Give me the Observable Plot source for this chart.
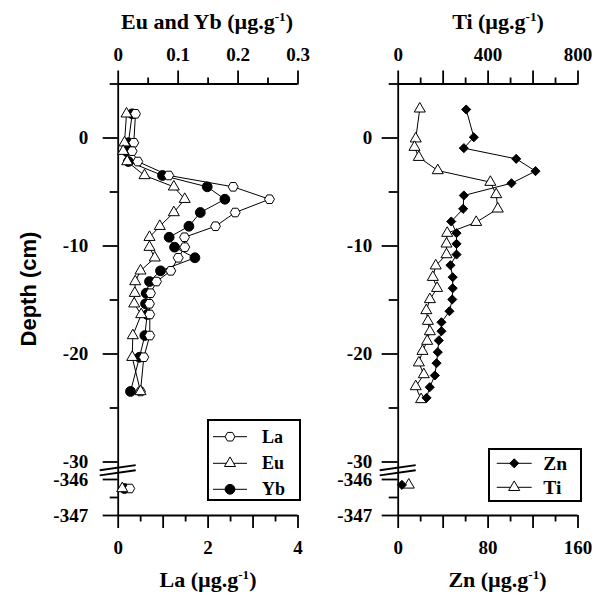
<!DOCTYPE html>
<html><head><meta charset="utf-8">
<script src="https://cdn.jsdelivr.net/npm/d3@7"></script>
<script src="https://cdn.jsdelivr.net/npm/@observablehq/plot@0.6"></script>
<style>
body{margin:0;background:#fff}
#chart{position:relative;width:601px;height:597px;font-family:"Liberation Serif",serif;font-weight:bold;color:#000;overflow:hidden}
.title{position:absolute;font-size:22px;white-space:nowrap;transform:translateX(-50%);line-height:26px}
.title sup{font-size:0.6em;line-height:0;vertical-align:0.62em}
.ylab{position:absolute;font-family:"Liberation Sans",Arial,sans-serif;font-size:22px;font-weight:bold;white-space:nowrap;line-height:26px;transform:translate(-50%,-50%) rotate(-90deg)}
.panel{position:absolute;top:0}
.legend{position:absolute;overflow:visible}
</style></head>
<body>
<div id="chart"></div>
<script>
// ---------- data ----------
// Left panel: La (bottom axis), Eu and Yb (top axis)
const depthL = [2.24, -0.44, -1.22, -2.18, -3.47, -4.52, -5.67, -6.9, -8.17, -9.19, -10.11, -11.09, -12.3, -13.29, -14.37, -15.35, -16.34, -18.29, -20.3, -23.47];
const laVals = [0.385, 0.347, 0.311, 0.436, 1.126, 2.558, 3.366, 2.603, 2.165, 1.475, 1.482, 1.335, 1.17, 0.852, 0.719, 0.696, 0.703, 0.703, 0.57, 0.496];
const euVals = [0.0139, 0.0105, 0.0083, 0.015, 0.0439, 0.0928, 0.111, 0.0928, 0.0694, 0.0522, 0.0522, 0.061, 0.0372, 0.0284, 0.0277, 0.0267, 0.0384, 0.0244, 0.0234, 0.0372];
const ybVals = [0.0234, 0.017, 0.014, 0.017, 0.0739, 0.1485, 0.178, 0.137, 0.118, 0.085, 0.094, 0.128, 0.0706, 0.0522, 0.0467, 0.0456, 0.0484, 0.0444, 0.0355, 0.0205];
const deepDepthL = [-346.25];
const deepLa = [0.258];
const deepEu = [0.0067];
const deepYb = [0.0105];

// Right panel: Zn (bottom axis), Ti (top axis)
const depthZn = [2.64, 0.07, -0.94, -1.93, -3.07, -4.19, -5.32, -6.56, -7.73, -8.81, -9.8, -10.79, -11.78, -12.89, -13.91, -14.95, -16.04, -17.06, -17.89, -18.75, -19.83, -20.85, -21.99, -23.07, -24.06];
const znVals = [60.5, 67.3, 58.4, 105, 122.2, 100.8, 58.4, 57.8, 47.2, 51.9, 51.9, 51.9, 46.5, 48.5, 48.5, 48.1, 45.6, 38.5, 38.5, 36.1, 35.2, 34.1, 32.6, 28.1, 25.2];
const depthTi = [2.7, -0.07, -0.85, -1.78, -3.01, -4.09, -5.23, -6.56, -7.8, -8.81, -9.8, -10.79, -11.83, -12.89, -13.91, -14.95, -15.97, -16.96, -17.92, -18.81, -19.74, -20.81, -21.9, -23.01, -24.21];
const tiVals = [96, 78, 72.5, 91.6, 176, 410, 436, 443, 347, 218, 215, 215, 167, 154, 173, 141, 125, 132, 141, 129, 108, 92, 114, 78, 102];
const deepDepthR = [-346.15];
const deepZn = [3.3];
const deepTi = [47];

// Axis ticks and labels
const yMajorTicks = [0, -10, -20, -30, -346, -347];
const yMajorLabels = ["0", "-10", "-20", "-30", "-346", "-347"];
const yMinorTicks = [5, -5, -15, -25, -346.5];
const depthTop = 5, depthBreakUpper = -30, depthBreakLower = -346, depthBottom = -347;

const laDomain = [0, 4];
const laMajorTicks = [0, 1, 2, 3, 4];
const laMajorLabels = ["0", "", "2", "", "4"];
const laMinorTicks = [0.5, 1.5, 2.5, 3.5];
const euDomainMax = 0.3;
const euMajorTicks = [0, 0.1, 0.2, 0.3];
const euMajorLabels = ["0", "0.1", "0.2", "0.3"];
const euMinorTicks = [0.05, 0.15, 0.25];

const znDomain = [0, 160];
const znMajorTicks = [0, 40, 80, 120, 160];
const znMajorLabels = ["0", "", "80", "", "160"];
const znMinorTicks = [20, 60, 100, 140];
const tiDomainMax = 800;
const tiMajorTicks = [0, 200, 400, 600, 800];
const tiMajorLabels = ["0", "", "400", "", "800"];
const tiMinorTicks = [100, 300, 500, 700];

// ---------- helpers ----------
const euToLa = v => v * laDomain[1] / euDomainMax;
const tiToZn = v => v * znDomain[1] / tiDomainMax;
// broken depth axis: the deep section (-346..-347 cm) is stretched and placed just below the break
const breakGap = 1.62, deepStretch = 3.334;
const depthToAxis = d => d >= depthBreakUpper ? d
  : depthBreakUpper - breakGap + (d - depthBreakLower) * deepStretch;
const yDomain = [depthToAxis(depthBottom), depthToAxis(depthTop)];

const hexFlat = {
  draw(ctx, size) {
    const R = Math.sqrt(size * 2 / (3 * Math.sqrt(3)));
    for (let k = 0; k < 6; k++) {
      const a = k * Math.PI / 3;
      const px = R * Math.cos(a), py = R * Math.sin(a);
      if (k === 0) ctx.moveTo(px, py); else ctx.lineTo(px, py);
    }
    ctx.closePath();
  }
};

function rows(depths, vals, f = v => v) {
  return depths.map((d, i) => ({depth: depthToAxis(d), v: f(vals[i])}));
}
function labelFor(ticks, labels, conv = v => v) {
  return d => {
    const i = ticks.findIndex(t => Math.abs(conv(t) - d) < 1e-9);
    return i < 0 ? "" : labels[i];
  };
}
function breakMark(index, scales) {
  const x0 = scales.x(0);
  const ym = (scales.y(depthToAxis(depthBreakUpper)) + scales.y(depthToAxis(depthBreakLower))) / 2;
  const g = d3.create("svg:g").attr("stroke", "black").attr("stroke-width", 1.8);
  for (const off of [-2.6, 2.6]) {
    g.append("line")
      .attr("x1", x0 - 18).attr("y1", ym + off + 2.6)
      .attr("x2", x0 + 18).attr("y2", ym + off - 2.6);
  }
  return g.node();
}

const H = 597;
const yTop = 83.5, yBottom = 515;
const plotStyle = {fontFamily: "Liberation Serif", fontSize: "19px", fontWeight: "bold", color: "black", background: "transparent", overflow: "visible"};
const AX = 1.8;

function yAxes(pad, majorSize, minorSize) {
  return [
    Plot.ruleX([0], {y1: yDomain[0], y2: yDomain[1], strokeWidth: AX}),
    Plot.axisY({ticks: yMajorTicks.map(depthToAxis), tickSize: majorSize, tickPadding: pad, strokeWidth: AX,
      tickFormat: labelFor(yMajorTicks, yMajorLabels, depthToAxis), label: null}),
    Plot.axisY({ticks: yMinorTicks.map(depthToAxis), tickSize: minorSize, strokeWidth: AX, tickFormat: () => "", label: null})
  ];
}
function xAxes(bMajor, bLabels, bMinor, tMajor, tLabels, tMinor, conv) {
  return [
    Plot.ruleY(yDomain, {strokeWidth: AX}),
    Plot.axisX({anchor: "bottom", ticks: bMajor, tickSize: 13, tickPadding: 11.5, strokeWidth: AX,
      tickFormat: labelFor(bMajor, bLabels), label: null}),
    Plot.axisX({anchor: "bottom", ticks: bMinor, tickSize: 6.5, strokeWidth: AX, tickFormat: () => "", label: null}),
    Plot.axisX({anchor: "top", ticks: tMajor.map(conv), tickSize: 14, tickPadding: 9.5, strokeWidth: AX,
      tickFormat: labelFor(tMajor, tLabels, conv), label: null}),
    Plot.axisX({anchor: "top", ticks: tMinor.map(conv), tickSize: 7, strokeWidth: AX, tickFormat: () => "", label: null})
  ];
}

const chart = document.getElementById("chart");

// ---------- left panel ----------
const WL = 330;
const laRows = rows(depthL, laVals), euRows = rows(depthL, euVals, euToLa), ybRows = rows(depthL, ybVals, euToLa);
const laDeep = rows(deepDepthL, deepLa), euDeep = rows(deepDepthL, deepEu, euToLa), ybDeep = rows(deepDepthL, deepYb, euToLa);
const left = Plot.plot({
  width: WL, height: H,
  marginLeft: 117.7, marginRight: 32.5, marginTop: yTop, marginBottom: H - yBottom,
  x: {domain: laDomain},
  y: {domain: yDomain},
  style: plotStyle,
  marks: [
    ...xAxes(laMajorTicks, laMajorLabels, laMinorTicks, euMajorTicks, euMajorLabels, euMinorTicks, euToLa),
    ...yAxes(15, 15, 8),
    breakMark,
    Plot.line(ybRows, {x: "v", y: "depth", stroke: "black", strokeWidth: 1}),
    Plot.line(euRows, {x: "v", y: "depth", stroke: "black", strokeWidth: 1}),
    Plot.line(laRows, {x: "v", y: "depth", stroke: "black", strokeWidth: 1}),
    Plot.dot([...ybRows, ...ybDeep], {x: "v", y: "depth", r: 4.9, fill: "black", stroke: "black", strokeWidth: 1}),
    Plot.dot([...laRows, ...laDeep], {x: "v", y: "depth", r: 4.5, symbol: hexFlat, fill: "white", stroke: "black", strokeWidth: 1}),
    Plot.dot([...euRows, ...euDeep], {x: "v", y: "depth", r: 4.1, symbol: "triangle", fill: "white", stroke: "black", strokeWidth: 1})
  ]
});
left.classList.add("panel");
left.style.left = "0px";
chart.appendChild(left);

// ---------- right panel ----------
const WR = 271, RX = 330;
const znRows = rows(depthZn, znVals), tiRows = rows(depthTi, tiVals, tiToZn);
const znDeepR = rows(deepDepthR, deepZn), tiDeepR = rows(deepDepthR, deepTi, tiToZn);
const right = Plot.plot({
  width: WR, height: H,
  marginLeft: 67.7, marginRight: 23.5, marginTop: yTop, marginBottom: H - yBottom,
  x: {domain: znDomain},
  y: {domain: yDomain},
  style: plotStyle,
  marks: [
    ...xAxes(znMajorTicks, znMajorLabels, znMinorTicks, tiMajorTicks, tiMajorLabels, tiMinorTicks, tiToZn),
    ...yAxes(10, 16, 9),
    breakMark,
    Plot.line(tiRows, {x: "v", y: "depth", stroke: "black", strokeWidth: 1}),
    Plot.line(znRows, {x: "v", y: "depth", stroke: "black", strokeWidth: 1}),
    Plot.dot([...tiRows, ...tiDeepR], {x: "v", y: "depth", r: 4.1, symbol: "triangle", fill: "white", stroke: "black", strokeWidth: 1}),
    Plot.dot([...znRows, ...znDeepR], {x: "v", y: "depth", r: 4.1, symbol: "diamond2", fill: "black", stroke: "black", strokeWidth: 1})
  ]
});
right.classList.add("panel");
right.style.left = RX + "px";
chart.appendChild(right);

// ---------- titles ----------
function addTitle(html, cx, cy) {
  const d = document.createElement("div");
  d.className = "title";
  d.innerHTML = html;
  d.style.left = cx + "px";
  d.style.top = (cy - 13) + "px";
  chart.appendChild(d);
}
addTitle("Eu and Yb (µg.g<sup>-1</sup>)", 207, 21.7);
addTitle("Ti (µg.g<sup>-1</sup>)", 498, 21.7);
addTitle("La (µg.g<sup>-1</sup>)", 208, 580);
addTitle("Zn (µg.g<sup>-1</sup>)", 497.5, 580);
const yl = document.createElement("div");
yl.className = "ylab";
yl.textContent = "Depth (cm)";
yl.style.left = "29px";
yl.style.top = "288.5px";
chart.appendChild(yl);

// ---------- legends ----------
function legend(x, y, w, h, items, fontSize, lineX1, lineX2, textX) {
  const svg = d3.select(chart).append("svg").attr("class", "legend")
    .style("left", x + "px").style("top", y + "px").attr("width", w).attr("height", h);
  svg.append("rect").attr("x", 1).attr("y", 1).attr("width", w - 2).attr("height", h - 2)
    .attr("fill", "white").attr("stroke", "black").attr("stroke-width", 2);
  items.forEach(it => {
    svg.append("line").attr("x1", lineX1).attr("x2", lineX2).attr("y1", it.y).attr("y2", it.y)
      .attr("stroke", "black").attr("stroke-width", 1);
    svg.append("path").attr("d", d3.symbol().type(it.symbol).size(Math.PI * it.r * it.r)())
      .attr("transform", `translate(${(lineX1 + lineX2) / 2},${it.y})`)
      .attr("fill", it.fill).attr("stroke", "black").attr("stroke-width", 1);
    svg.append("text").attr("x", textX).attr("y", it.y).attr("dy", "0.34em")
      .attr("font-family", "Liberation Serif").attr("font-weight", "bold").attr("font-size", fontSize)
      .text(it.label);
  });
}
legend(207, 419, 94, 82, [
  {label: "La", y: 17.7, symbol: hexFlat, r: 4.5, fill: "white"},
  {label: "Eu", y: 44.3, symbol: d3.symbolTriangle, r: 4.1, fill: "white"},
  {label: "Yb", y: 70.3, symbol: d3.symbolCircle, r: 4.9, fill: "black"}
], 18, 6, 40, 55);
legend(488, 448, 94, 54, [
  {label: "Zn", y: 15.3, symbol: d3.symbolDiamond2, r: 4.1, fill: "black"},
  {label: "Ti", y: 39.3, symbol: d3.symbolTriangle, r: 4.1, fill: "white"}
], 19.5, 8.7, 43.7, 55.3);
</script>
</body></html>
